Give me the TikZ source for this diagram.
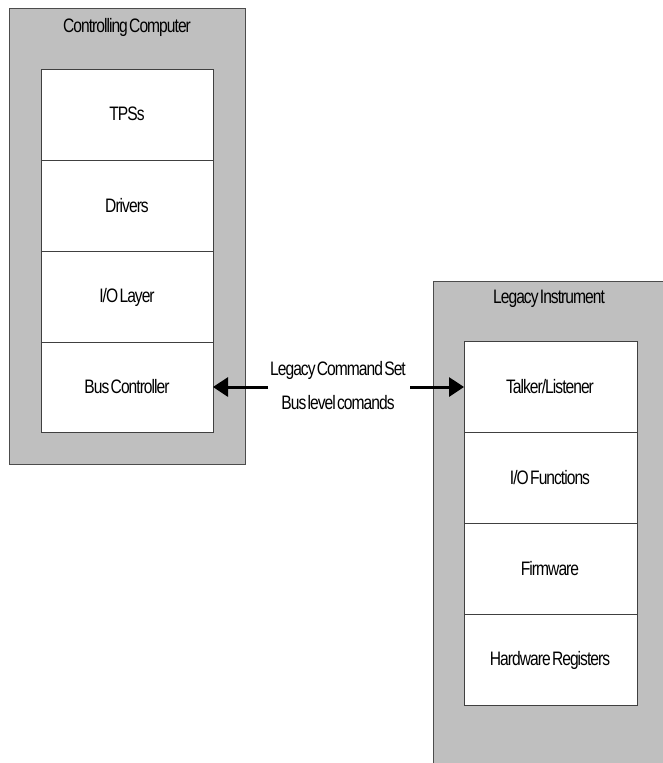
\documentclass[tikz,border=0pt]{standalone}
\usepackage{fontspec}
\setmainfont{Liberation Sans}[FakeStretch=0.8,LetterSpace=-5,WordSpace=0.4]
\usetikzlibrary{arrows.meta}
\begin{document}
\begin{tikzpicture}[x=1pt,y=-1pt,
  outer/.style={draw=black!70,fill=black!25,line width=0.8pt},
  layer/.style={draw=black!75,fill=white,line width=1pt},
  lbl/.style={font=\fontsize{19.5}{23}\selectfont,inner sep=0pt},
  conn/.style={line width=3pt,-{Triangle[length=15pt,width=19pt]}}]
\useasboundingbox (0,0) rectangle (662,763);
% left computer
\draw[outer] (9,8) rectangle (245,464);
\node[lbl] (cc) at (127,27) {Controlling Computer};
\draw[layer] (41,69) rectangle (213,160);
\node[lbl] (tps) at (127,114) {TPSs};
\draw[layer] (41,160) rectangle (213,251);
\node[lbl] (drv) at (127,206) {Drivers};
\draw[layer] (41,251) rectangle (213,342);
\node[lbl] (io) at (127,297) {I/O Layer};
\draw[layer] (41,342) rectangle (213,432);
\node[lbl] (bc) at (127,387) {Bus Controller};
\coordinate (bcE) at (213,387);
% right instrument
\draw[outer] (433,281) rectangle (663,765);
\node[lbl] (li) at (549,299) {Legacy Instrument};
\draw[layer] (464,341) rectangle (637,432);
\node[lbl] (tl) at (550,387) {Talker/Listener};
\draw[layer] (464,432) rectangle (637,523);
\node[lbl] (iof) at (550,478) {I/O Functions};
\draw[layer] (464,523) rectangle (637,614);
\node[lbl] (fw) at (550,569) {Firmware};
\draw[layer] (464,614) rectangle (637,705);
\node[lbl] (hr) at (550,660) {Hardware Registers};
\coordinate (tlW) at (464,387);
% label + arrows
\node[lbl,align=center] (cmd) at (338,386) {Legacy Command Set\\[11pt]Bus level comands};
\coordinate (aL) at (268,387);
\coordinate (aR) at (410,387);
\draw[conn] (aL) -- (bcE);
\draw[conn] (aR) -- (tlW);
\end{tikzpicture}
\end{document}
